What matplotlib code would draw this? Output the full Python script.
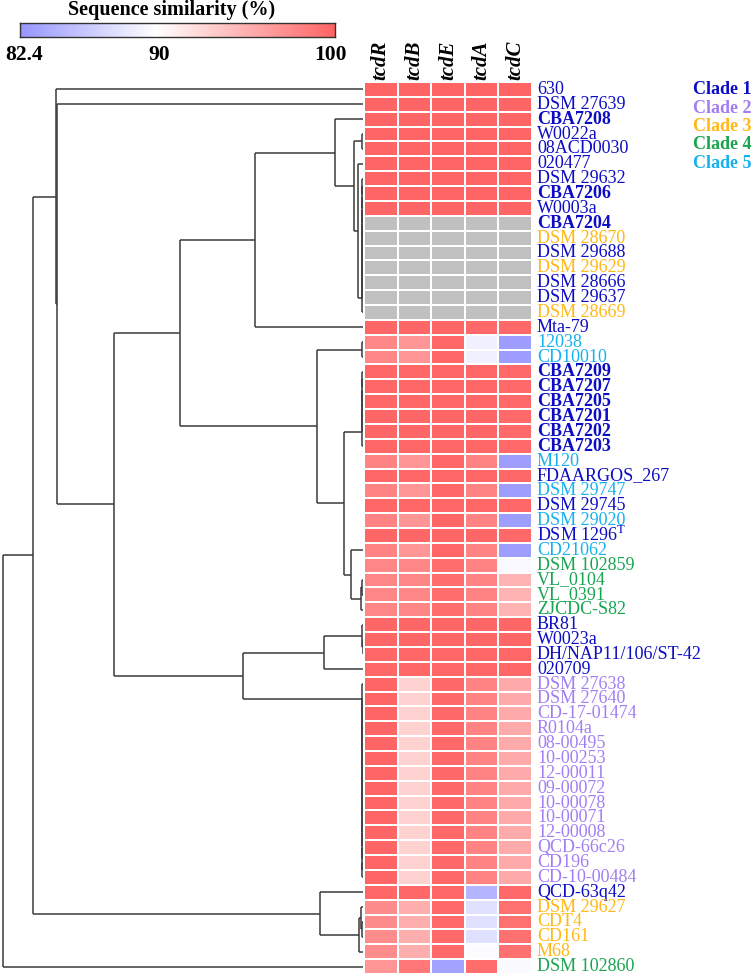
import numpy as np
import matplotlib
matplotlib.use("Agg")
import matplotlib.pyplot as plt
from matplotlib.colors import LinearSegmentedColormap
import matplotlib.transforms as mtransforms

plt.rcParams['font.family'] = ['Liberation Serif', 'DejaVu Serif']
plt.rcParams['mathtext.fontset'] = 'custom'
plt.rcParams['mathtext.rm'] = 'Liberation Serif'

# ---------------- data ----------------
genes = ["tcdR", "tcdB", "tcdE", "tcdA", "tcdC"]

strains = ["630", "DSM 27639", "CBA7208", "W0022a", "08ACD0030", "020477", "DSM 29632",
           "CBA7206", "W0003a", "CBA7204", "DSM 28670", "DSM 29688", "DSM 29629", "DSM 28666",
           "DSM 29637", "DSM 28669", "Mta-79", "12038", "CD10010", "CBA7209", "CBA7207",
           "CBA7205", "CBA7201", "CBA7202", "CBA7203", "M120", "FDAARGOS_267", "DSM 29747",
           "DSM 29745", "DSM 29020", "DSM 1296$^{\\mathrm{T}}$", "CD21062", "DSM 102859", "VL_0104",
           "VL_0391", "ZJCDC-S82", "BR81", "W0023a", "DH/NAP11/106/ST-42", "020709",
           "DSM 27638", "DSM 27640", "CD-17-01474", "R0104a", "08-00495", "10-00253",
           "12-00011", "09-00072", "10-00078", "10-00071", "12-00008", "QCD-66c26", "CD196",
           "CD-10-00484", "QCD-63q42", "DSM 29627", "CDT4", "CD161", "M68", "DSM 102860"]

clade = [1, 1, 1, 1, 1, 1, 1, 1, 1, 1, 3, 1, 3, 1, 1, 3, 1, 5, 5, 1, 1, 1, 1, 1, 1,
         5, 1, 5, 1, 5, 1, 5, 4, 4, 4, 4, 1, 1, 1, 1,
         2, 2, 2, 2, 2, 2, 2, 2, 2, 2, 2, 2, 2, 2, 1, 3, 3, 3, 3, 4]

bold_strains = ["CBA7208", "CBA7206", "CBA7204", "CBA7209", "CBA7207", "CBA7205",
                "CBA7201", "CBA7202", "CBA7203"]

nan = np.nan
similarity = [
    [100, 100, 100, 100, 100],      # 630
    [99.9, 99.9, 99.9, 99.9, 99.9],
    [99.9, 99.9, 99.9, 99.9, 99.9],
    [99.9, 99.9, 99.9, 99.9, 99.9],
    [99.9, 99.9, 99.9, 99.9, 99.9],
    [99.9, 99.9, 99.9, 99.9, 99.9],
    [99.9, 99.9, 99.9, 99.9, 99.9],
    [99.9, 99.9, 99.9, 99.9, 99.9],
    [99.9, 99.9, 99.9, 99.9, 99.9],
    [nan, nan, nan, nan, nan],      # CBA7204
    [nan, nan, nan, nan, nan],
    [nan, nan, nan, nan, nan],
    [nan, nan, nan, nan, nan],
    [nan, nan, nan, nan, nan],
    [nan, nan, nan, nan, nan],
    [nan, nan, nan, nan, nan],      # DSM 28669
    [99.8, 99.8, 99.8, 99.7, 99.7], # Mta-79
    [97.7, 96.8, 99.8, 88.9, 82.9], # 12038
    [97.7, 96.8, 99.8, 88.9, 82.9], # CD10010
    [99.8, 99.8, 99.8, 99.8, 99.6],
    [99.8, 99.8, 99.8, 99.8, 99.6],
    [99.8, 99.8, 99.8, 99.8, 99.6],
    [99.8, 99.8, 99.8, 99.8, 99.6],
    [99.8, 99.8, 99.8, 99.8, 99.6],
    [99.8, 99.8, 99.8, 99.8, 99.6],
    [98.0, 96.8, 99.8, 98.0, 83.0], # M120
    [99.8, 99.8, 99.8, 99.8, 99.7], # FDAARGOS_267
    [98.0, 96.8, 99.8, 98.0, 83.0], # DSM 29747
    [99.8, 99.8, 99.8, 99.8, 99.7], # DSM 29745
    [98.0, 96.8, 99.8, 98.0, 83.0], # DSM 29020
    [99.8, 99.8, 99.8, 99.8, 99.7], # DSM 1296T
    [98.0, 96.8, 99.8, 98.0, 83.0], # CD21062
    [97.8, 97.8, 99.4, 98.0, 89.6], # DSM 102859
    [97.8, 97.8, 99.4, 98.0, 94.8], # VL_0104
    [97.8, 97.8, 99.4, 98.0, 94.8], # VL_0391
    [97.8, 97.8, 99.4, 98.0, 94.8], # ZJCDC-S82
    [99.8, 99.8, 99.8, 99.8, 99.8], # BR81
    [99.8, 99.8, 99.8, 99.8, 99.8],
    [99.8, 99.8, 99.8, 99.8, 99.8],
    [99.8, 99.8, 99.8, 99.8, 99.8], # 020709
] + [[99.9, 92.9, 99.7, 98.0, 95.5]] * 14 + [  # clade 2 block
    [99.8, 99.7, 99.8, 84.6, 99.6], # QCD-63q42
    [97.4, 95.2, 99.6, 87.8, 99.2], # DSM 29627
    [97.4, 95.2, 99.6, 87.8, 99.2], # CDT4
    [97.4, 95.2, 99.6, 87.8, 99.2], # CD161
    [97.4, 95.2, 99.6, 89.8, 99.2], # M68
    [96.8, 98.7, 83.3, 99.4, 89.7], # DSM 102860
]

vmin, vmid, vmax = 82.4, 90, 100
cbar_ticks = [82.4, 90, 100]

clade_colors = {1: "#0C0CC4", 2: "#A27EF4", 3: "#FFB814", 4: "#18A550", 5: "#16B2EE"}
clade_names = ["Clade 1", "Clade 2", "Clade 3", "Clade 4", "Clade 5"]

# dendrogram (node = (height, left, right); leaves are row indices)
def chain_left(leaves, h):
    node = leaves[0]
    for lf in leaves[1:]:
        node = (h, node, lf)
    return node

def chain_right(leaves, h):
    node = leaves[-1]
    for lf in reversed(leaves[:-1]):
        node = (h, lf, node)
    return node

N45 = (0.001, 3, 4)
N7_16 = chain_left(list(range(6, 16)), 0.0006)
N358 = (0.005, 5, N7_16)
N354 = (0.009, N45, N358)
N335 = (0.028, 2, N354)
N255 = (0.108, N335, 16)
N1819 = (0.001, 17, 18)
NCBA = chain_left(list(range(19, 25)), 0.0008)
N26_33 = chain_left(list(range(25, 33)), 0.0)
N34_36 = (0.002, (0.0012, 33, 34), 35)
N351 = (0.012, N26_33, N34_36)
N344 = (0.019, NCBA, N351)
N317 = (0.046, N1819, N344)
N180 = (0.183, N255, N317)
N37_39 = (0.0006, 36, (0.0003, 37, 38))
N324 = (0.039, N37_39, 39)
NC2 = chain_right(list(range(40, 54)), 0.0006)
N243 = (0.120, N324, NC2)
N114 = (0.249, N180, N243)
NP = (0.306, 1, N114)
NQ = (0.307, 0, NP)
N56_59 = (0.004, (0.002, 55, (0.001, 56, 57)), 58)
N320 = (0.043, 54, N56_59)
N33 = (0.330, NQ, N320)
tree = (0.360, N33, 59)

# ---------------- figure ----------------
W, H = 755, 977
fig = plt.figure(figsize=(W / 100, H / 100), dpi=100)

def rect(x0, y0, x1, y1):
    return [x0 / W, 1 - y1 / H, (x1 - x0) / W, (y1 - y0) / H]

cmap = LinearSegmentedColormap.from_list(
    "sim", [(0.0, "#9696FF"), ((vmid - vmin) / (vmax - vmin), "#FFFFFF"), (1.0, "#FF6464")])
cmap.set_bad("#C0C0C0")

nrow = len(strains)
hm_top, hm_bot = 82, 974
axh = fig.add_axes(rect(364, hm_top, 532, hm_bot))
data = np.ma.masked_invalid(np.array(similarity, dtype=float))
axh.pcolormesh(np.arange(len(genes) + 1), np.arange(nrow + 1), data, cmap=cmap,
               vmin=vmin, vmax=vmax, edgecolors="white", linewidth=1.2)
axh.set_xlim(0, len(genes))
axh.set_ylim(nrow, 0)
axh.axis("off")

for j, g in enumerate(genes):
    axh.text(j + 0.5, -0.12, g, rotation=90, ha="center", va="bottom",
             fontsize=15, fontweight="bold", fontstyle="italic")

tr = mtransforms.blended_transform_factory(axh.transAxes, axh.transData)
for i, (s, c) in enumerate(zip(strains, clade)):
    axh.text(1 + 5 / 168, i + 0.5, s, transform=tr, ha="left", va="center",
             fontsize=13, color=clade_colors[c],
             fontweight="bold" if s in bold_strains else "normal")

# dendrogram
axd = fig.add_axes(rect(0, hm_top, 363, hm_bot))
axd.set_xlim(0.363, 0.0)
axd.set_ylim(nrow, 0)
axd.axis("off")
lc = "#3a3a3a"

def draw(node):
    if isinstance(node, int):
        return 0.0, node + 0.5
    h, a, b = node
    ha_, ya = draw(a)
    hb_, yb = draw(b)
    if h > 0:
        axd.plot([h, h], [ya, yb], color=lc, lw=1.1, solid_capstyle="butt")
    axd.plot([h, ha_], [ya, ya], color=lc, lw=1.1, solid_capstyle="butt")
    axd.plot([h, hb_], [yb, yb], color=lc, lw=1.1, solid_capstyle="butt")
    return h, (ya + yb) / 2

draw(tree)

# colorbar
axc = fig.add_axes(rect(20, 23, 335, 37))
grad = np.linspace(vmin, vmax, 512)[None, :]
axc.imshow(grad, aspect="auto", cmap=cmap, vmin=vmin, vmax=vmax,
           extent=[vmin, vmax, 0, 1])
axc.set_xlim(vmin, vmax)
axc.set_xticks([])
axc.set_yticks([])
for sp in axc.spines.values():
    sp.set_linewidth(1.0)
    sp.set_color("#333333")
trc = mtransforms.blended_transform_factory(axc.transData, fig.transFigure)
tick_shift_px = [4.5, 3, -5]
for t, dx in zip(cbar_ticks, tick_shift_px):
    off = mtransforms.ScaledTranslation(dx / 100, 0, fig.dpi_scale_trans)
    axc.text(t, 1 - 55 / H, f"{t:g}", transform=trc + off, ha="center", va="center",
             fontsize=15.5, fontweight="bold")
fig.text(172 / W, 1 - 10 / H, "Sequence similarity (%)", ha="center",
         va="center", fontsize=14.5, fontweight="bold")

# clade legend
for k, name in enumerate(clade_names):
    fig.text(693 / W, 1 - (90 + k * 18.3) / H, name, ha="left", va="center",
             fontsize=13, fontweight="bold", color=clade_colors[k + 1])

fig.savefig("out.png", dpi=100)
